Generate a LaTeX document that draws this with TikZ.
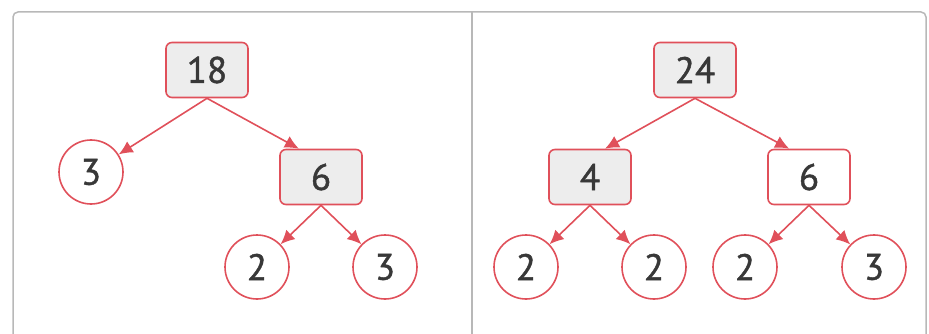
\documentclass[tikz,border=0pt]{standalone}
\usepackage{fontspec}
\newfontfamily\cifrafont{PT Sans}[FakeBold=1.2]
\usetikzlibrary{positioning}
\usetikzlibrary{arrows.meta}
\definecolor{rosso}{HTML}{E0505A}
\definecolor{grigio}{HTML}{B8B8B8}
\definecolor{fondo}{HTML}{EDEDED}
\definecolor{cifra}{HTML}{383838}

\begin{document}
\begin{tikzpicture}[x=1pt,y=-1pt,
every node/.style={font=\cifrafont\fontsize{37}{40}\selectfont,text=cifra},
numero/.style={draw=rosso,line width=1.6pt,rounded corners=6pt,minimum width=82pt,minimum height=55pt,fill=fondo},
bianco/.style={fill=white},
primo/.style={draw=rosso,line width=1.6pt,circle,minimum size=64pt,inner sep=0pt},
freccia/.style={draw=rosso,line width=1.6pt,-{Latex[length=14pt,width=13pt]}}
]
\useasboundingbox (0,0) rectangle (929,334);
\clip (0,0) rectangle (929,334);
%-- cornice
\draw[grigio,line width=1.5pt,rounded corners=5pt] (13,350) -- (13,12) -- (926,12) -- (926,350);
\draw[grigio,line width=1.5pt] (472,12) -- (472,350);
%-- 18
\node[numero](a18) at (207,70){18};
\node[primo](a3) at (91,172){3};
\draw[freccia] (a18.south) -- (a3);
\node[numero](a6) at (321,177){6};
\draw[freccia] (a18.south) -- (a6.128);
%--
\node[primo](a2) at (257,267){2};
\node[primo](a3b) at (385,267){3};
\draw[freccia] (a6.south) -- (a2);
\draw[freccia] (a6.south) -- (a3b);
%-- 24
\node[numero](b24) at (695,70){24};
\node[numero](b4) at (590,177){4};
\node[numero,bianco](b6) at (809,177){6};
\draw[freccia] (b24.south) -- (b4.62);
\draw[freccia] (b24.south) -- (b6.125);
%--
\node[primo](b2) at (526,267){2};
\node[primo](b2b) at (654,267){2};
\draw[freccia] (b4.south) -- (b2);
\draw[freccia] (b4.south) -- (b2b);
%--
\node[primo](b2c) at (745,267){2};
\node[primo](b3) at (874,267){3};
\draw[freccia] (b6.south) -- (b2c);
\draw[freccia] (b6.south) -- (b3);
\end{tikzpicture}
\end{document}
